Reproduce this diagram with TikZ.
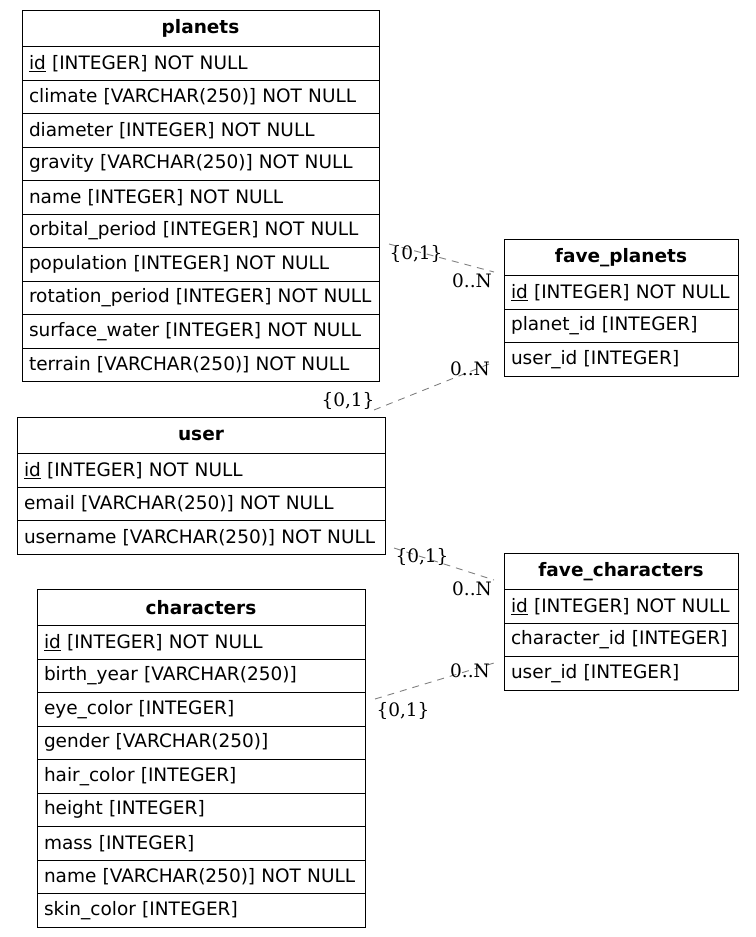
\documentclass[tikz,border=0pt]{standalone}
\usepackage{fontspec}
\setmainfont{DejaVu Sans}
\newfontfamily\cardfont{DejaVu Serif}
\usetikzlibrary{calc}

\tikzset{
  head/.style={draw,line width=1pt,anchor=north west,minimum height=36.5pt,
    inner sep=0pt,outer sep=0pt,font=\fontsize{18.5}{22}\selectfont\bfseries},
  row/.style={draw,line width=1pt,anchor=north west,minimum height=33.5pt,
    inner xsep=7pt,inner ysep=0pt,outer sep=0pt,align=left,
    font=\fontsize{18.5}{22}\selectfont},
  rel/.style={draw=gray,dashed,line width=0.9pt,dash pattern=on 7pt off 6pt},
  card/.style={font=\cardfont\fontsize{18.5}{22}\selectfont,inner sep=0pt}
}

% #1 table name, #2 text width, #3 rows
\newcommand{\tablerows}[3]{%
  \foreach \t [count=\i, remember=\i as \j (initially 0)] in {#3}
    \node[row,text width=#2] (#1-\i) at (#1-\j.south west) {\mbox{\t}};
}

\begin{document}
\begin{tikzpicture}[x=1pt,y=-1pt]
  \useasboundingbox (0,0) rectangle (755,937);

  % tables
  \node[head,minimum width=357pt,alias=planets-0] (planets) at (22,10) {planets};
  \tablerows{planets}{343pt}{\underline{id} [INTEGER] NOT NULL,
    climate [VARCHAR(250)] NOT NULL, diameter [INTEGER] NOT NULL,
    gravity [VARCHAR(250)] NOT NULL, name [INTEGER] NOT NULL,
    orbital\_period [INTEGER] NOT NULL, population [INTEGER] NOT NULL,
    rotation\_period [INTEGER] NOT NULL, surface\_water [INTEGER] NOT NULL,
    terrain [VARCHAR(250)] NOT NULL}

  \node[head,minimum width=234pt,alias=faveplanets-0] (faveplanets) at (504,239) {fave\_planets};
  \tablerows{faveplanets}{220pt}{\underline{id} [INTEGER] NOT NULL,
    planet\_id [INTEGER], user\_id [INTEGER]}

  \node[head,minimum width=368pt,alias=user-0] (user) at (17,417) {user};
  \tablerows{user}{354pt}{\underline{id} [INTEGER] NOT NULL,
    email [VARCHAR(250)] NOT NULL, username [VARCHAR(250)] NOT NULL}

  \node[head,minimum width=234pt,alias=favechars-0] (favechars) at (504,553) {fave\_characters};
  \tablerows{favechars}{220pt}{\underline{id} [INTEGER] NOT NULL,
    character\_id [INTEGER], user\_id [INTEGER]}

  \node[head,minimum width=328pt,alias=characters-0] (characters) at (37,589) {characters};
  \tablerows{characters}{314pt}{\underline{id} [INTEGER] NOT NULL,
    birth\_year [VARCHAR(250)], eye\_color [INTEGER],
    gender [VARCHAR(250)], hair\_color [INTEGER], height [INTEGER],
    mass [INTEGER], name [VARCHAR(250)] NOT NULL, skin\_color [INTEGER]}

  % relation ends
  \coordinate (planets-out) at (389,244);
  \coordinate (faveplanets-in1) at (494,272);
  \coordinate (user-out1) at (374,410);
  \coordinate (faveplanets-in2) at (494,362);
  \coordinate (user-out2) at (394,548);
  \coordinate (favechars-in1) at (494,580);
  \coordinate (characters-out) at (375,699);
  \coordinate (favechars-in2) at (494,663);

  \draw[rel] (planets-out) -- (faveplanets-in1);
  \draw[rel] (user-out1) -- (faveplanets-in2);
  \draw[rel] (user-out2) -- (favechars-in1);
  \draw[rel] (characters-out) -- (favechars-in2);

  % cardinalities
  \node[card] (planets-card) at (416,254) {\{0,1\}};
  \node[card] (faveplanets-card1) at (472,281) {0..N};
  \node[card] (user-card1) at (348,401) {\{0,1\}};
  \node[card] (faveplanets-card2) at (470,369) {0..N};
  \node[card] (user-card2) at (422,557) {\{0,1\}};
  \node[card] (favechars-card1) at (472,589) {0..N};
  \node[card] (characters-card) at (403,711) {\{0,1\}};
  \node[card] (favechars-card2) at (470,671) {0..N};
\end{tikzpicture}
\end{document}
